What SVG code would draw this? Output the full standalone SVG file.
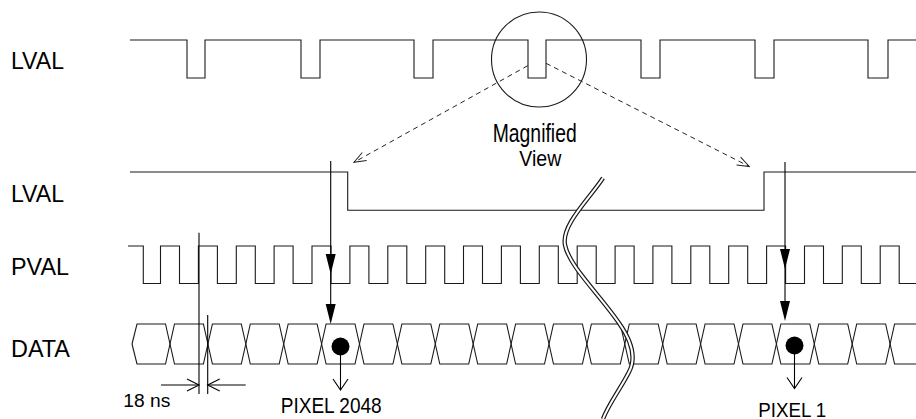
<svg xmlns="http://www.w3.org/2000/svg" width="916" height="419" viewBox="0 0 916 419">
<style>
.w{fill:none;stroke:#1a1a1a;stroke-width:1.1}
.t{font-family:"Liberation Sans",Arial,sans-serif;fill:#000}
.lbl{font-size:23px}
.d{fill:none;stroke:#222;stroke-width:1;stroke-dasharray:5 4}
.a{fill:none;stroke:#000;stroke-width:1.1}
</style>
<defs>
<marker id="open" viewBox="-13 -6 14 12" refX="0" refY="0" markerWidth="14" markerHeight="12" markerUnits="userSpaceOnUse" orient="auto">
<path d="M-12,-4.5 L0,0 L-12,4.5" fill="none" stroke="#222" stroke-width="1"/>
</marker>
<path id="tri" d="M0,0 L-5,-20 L5,-20 Z" fill="#000"/>
</defs>
<rect width="916" height="419" fill="#fff"/>

<g id="lval-top">
<text class="t lbl" x="11" y="69" textLength="53" lengthAdjust="spacingAndGlyphs">LVAL</text>
<path class="w" d="M130,40 H187 V78 H205 V40 H301 V78 H320 V40 H414 V78 H433 V40 H528 V78 H546 V40 H641 V78 H660 V40 H755 V78 H774 V40 H868 V78 H888 V40 H916"/>
</g>

<g id="magnifier">
<circle cx="539" cy="59.5" r="47.5" fill="none" stroke="#1a1a1a" stroke-width="1.1"/>
<text class="t" x="492.7" y="141.5" font-size="25" textLength="84" lengthAdjust="spacingAndGlyphs">Magnified</text>
<text class="t" x="519.3" y="166" font-size="22" textLength="42" lengthAdjust="spacingAndGlyphs">View</text>
</g>

<g id="lval-bottom">
<text class="t lbl" x="11" y="202" textLength="53" lengthAdjust="spacingAndGlyphs">LVAL</text>
<path class="w" d="M130,172 H347.7 V210.3 H764 V172 H916"/>
</g>

<g id="pval">
<text class="t lbl" x="11" y="275" textLength="58" lengthAdjust="spacingAndGlyphs">PVAL</text>
<path class="w" d="M128,246 H143.3 V283.5 H160.5 V246 H179.5 V283.5 H198.4 V246 H217.4 V283.5 H236.3 V246 H255.3 V283.5 H274.1 V246 H293.1 V283.5 H312 V246 H331 V283.5 H349.9 V246 H368.9 V283.5 H387.8 V246 H406.8 V283.5 H425.7 V246 H444.7 V283.5 H463.5 V246 H482.5 V283.5 H501.4 V246 H520.4 V283.5 H539.3 V246 H558.3 V283.5 H577.2 V246 H596.2 V283.5 H615.1 V246 H634.1 V283.5 H652.9 V246 H671.9 V283.5 H690.8 V246 H709.8 V283.5 H728.7 V246 H747.7 V283.5 H766.6 V246 H785.6 V283.5 H804.5 V246 H823.5 V283.5 H842.3 V246 H861.3 V283.5 H880.2 V246 H899.2 V283.5 H916"/>
</g>

<g id="data">
<text class="t lbl" x="11" y="357" textLength="59" lengthAdjust="spacingAndGlyphs">DATA</text>
<path class="w" d="M132,344 L137,324 H165.5 L174.5,364 H203.4 L212.4,324 H241.3 L250.3,364 H279.2 L288.2,324 H317.1 L326.1,364 H355 L364,324 H392.9 L401.9,364 H430.8 L439.8,324 H468.7 L477.7,364 H506.6 L515.6,324 H544.5 L553.5,364 H582.4 L591.4,324 H620.3 L629.3,364 H658.2 L667.2,324 H696.1 L705.1,364 H734 L743,324 H771.9 L780.9,364 H809.8 L818.8,324 H847.7 L856.7,364 H885.6 L894.6,324 H916"/>
<path class="w" d="M132,344 L137,364 H165.5 L174.5,324 H203.4 L212.4,364 H241.3 L250.3,324 H279.2 L288.2,364 H317.1 L326.1,324 H355 L364,364 H392.9 L401.9,324 H430.8 L439.8,364 H468.7 L477.7,324 H506.6 L515.6,364 H544.5 L553.5,324 H582.4 L591.4,364 H620.3 L629.3,324 H658.2 L667.2,364 H696.1 L705.1,324 H734 L743,364 H771.9 L780.9,324 H809.8 L818.8,364 H847.7 L856.7,324 H885.6 L894.6,364 H916"/>
<circle cx="340.5" cy="346.5" r="9" fill="#000"/>
<circle cx="794.5" cy="345.5" r="9" fill="#000"/>
</g>

<g id="break">
<path d="M603,178 C590,198 561,225 565,245 C569,266 600,295 619,323 C631,340 637,357 629,372 C621,388 608,405 603,419" fill="none" stroke="#1a1a1a" stroke-width="4.4"/>
<path d="M603,178 C590,198 561,225 565,245 C569,266 600,295 619,323 C631,340 637,357 629,372 C621,388 608,405 603,419" fill="none" stroke="#fff" stroke-width="2"/>
</g>

<g id="connectors">
<line class="d" x1="527.7" y1="65.7" x2="354" y2="162.3" marker-end="url(#open)"/>
<line class="d" x1="546" y1="63.3" x2="749.3" y2="166.5" marker-end="url(#open)"/>
<line class="a" x1="330.7" y1="161" x2="330.7" y2="318"/>
<use href="#tri" x="330.7" y="274"/>
<use href="#tri" x="330.7" y="324"/>
<line class="a" x1="785" y1="162" x2="785" y2="314"/>
<use href="#tri" x="785" y="269"/>
<use href="#tri" x="785" y="321"/>
<line class="a" x1="340.5" y1="347" x2="340.5" y2="390"/>
<path class="a" d="M333,379 L340.5,390 L348,379"/>
<line class="a" x1="794.5" y1="346" x2="794.5" y2="388.5"/>
<path class="a" d="M787,377.5 L794.5,388.5 L802,377.5"/>
<line class="a" x1="199" y1="232.7" x2="199" y2="394"/>
<line class="a" x1="207.7" y1="315" x2="207.7" y2="394"/>
<line class="a" x1="161" y1="385" x2="199" y2="385"/>
<path class="a" d="M187,379 L199,385 L187,391"/>
<line class="a" x1="245.7" y1="385" x2="207.7" y2="385"/>
<path class="a" d="M219.7,379 L207.7,385 L219.7,391"/>
</g>

<g id="labels">
<text class="t" x="123.3" y="407" font-size="18" textLength="47" lengthAdjust="spacingAndGlyphs">18 ns</text>
<text class="t" x="280.7" y="412.5" font-size="22" textLength="101" lengthAdjust="spacingAndGlyphs">PIXEL 2048</text>
<text class="t" x="758.3" y="416.5" font-size="21" textLength="68" lengthAdjust="spacingAndGlyphs">PIXEL 1</text>
</g>
</svg>
